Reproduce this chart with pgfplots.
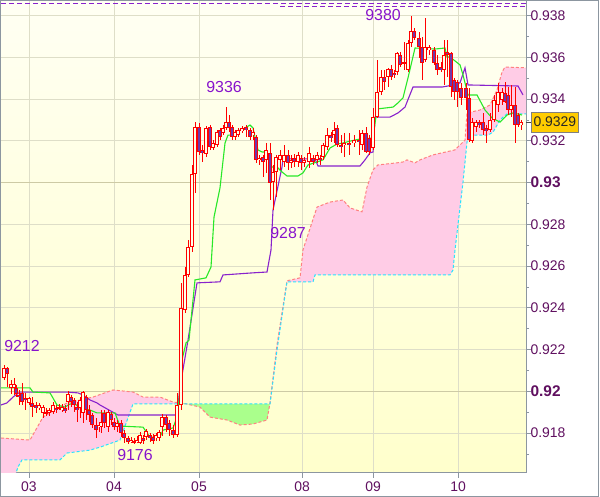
\documentclass[border=0pt]{standalone}
\usepackage{fontspec}
\setmainfont{Liberation Sans}
\usepackage{pgfplots}
\usepackage{pgfplotstable}
\pgfplotsset{compat=1.18}

\definecolor{bgtop}{RGB}{255,255,243}
\definecolor{bgbot}{RGB}{255,255,204}
\definecolor{gridc}{RGB}{222,222,200}
\definecolor{gridd}{RGB}{205,202,165}
\definecolor{axisgray}{RGB}{140,150,160}
\definecolor{tickc}{RGB}{96,16,96}
\definecolor{annoc}{RGB}{136,20,204}
\definecolor{kijun}{RGB}{136,34,204}
\definecolor{tenkan}{RGB}{40,232,40}
\definecolor{cloudpink}{RGB}{255,204,230}
\definecolor{cloudgreen}{RGB}{170,255,140}
\definecolor{salmon}{RGB}{255,128,128}
\definecolor{cyanline}{RGB}{40,228,255}
\definecolor{bullfill}{RGB}{255,255,232}
\definecolor{bearfill}{RGB}{112,56,170}
\definecolor{gold}{RGB}{255,204,0}

\pgfplotstableread{
x o h l c
4 0.92065 0.92127 0.92055 0.92113
7 0.92113 0.92117 0.92021 0.92084
11 0.92017 0.92055 0.91988 0.92036
14 0.92017 0.92065 0.91983 0.92036
16 0.92017 0.92031 0.91973 0.91988
19 0.91983 0.92007 0.91935 0.91973
22 0.91993 0.92041 0.91935 0.91949
25 0.91969 0.91993 0.91911 0.91959
29 0.91945 0.91973 0.91935 0.91969
32 0.91945 0.91973 0.91877 0.91925
36 0.91935 0.91949 0.91897 0.91921
39 0.91921 0.91945 0.91911 0.91935
43 0.91897 0.91935 0.91873 0.91925
46 0.91901 0.91921 0.91882 0.91892
49 0.91897 0.91921 0.91882 0.91911
53 0.91901 0.91949 0.91892 0.91935
56 0.91921 0.91935 0.91897 0.91911
59 0.91921 0.91940 0.91911 0.91925
62 0.91911 0.91940 0.91901 0.91925
65 0.91921 0.91935 0.91897 0.91906
68 0.91949 0.92002 0.91911 0.91988
71 0.91973 0.91983 0.91925 0.91949
74 0.91959 0.91969 0.91901 0.91935
77 0.91925 0.91949 0.91853 0.91911
80 0.91921 0.91973 0.91873 0.91959
83 0.91897 0.92002 0.91849 0.91997
86 0.91973 0.91983 0.91863 0.91911
89 0.91911 0.91935 0.91853 0.91887
92 0.91887 0.91897 0.91825 0.91839
96 0.91839 0.91873 0.91777 0.91815
99 0.91829 0.91853 0.91805 0.91839
101 0.91829 0.91911 0.91801 0.91853
104 0.91897 0.91911 0.91825 0.91849
108 0.91829 0.91911 0.91805 0.91901
111 0.91892 0.91901 0.91839 0.91863
114 0.91853 0.91873 0.91815 0.91829
117 0.91829 0.91863 0.91805 0.91849
121 0.91849 0.91863 0.91781 0.91801
124 0.91801 0.91815 0.91753 0.91777
128 0.91777 0.91786 0.91748 0.91757
131 0.91757 0.91781 0.91753 0.91767
134 0.91762 0.91777 0.91748 0.91753
137 0.91757 0.91786 0.91753 0.91767
140 0.91753 0.91805 0.91748 0.91791
143 0.91777 0.91791 0.91748 0.91762
146 0.91781 0.91820 0.91767 0.91810
150 0.91791 0.91801 0.91757 0.91777
153 0.91781 0.91796 0.91748 0.91762
156 0.91777 0.91801 0.91762 0.91791
159 0.91777 0.91815 0.91762 0.91805
162 0.91829 0.91892 0.91786 0.91877
166 0.91877 0.91887 0.91805 0.91839
169 0.91849 0.91863 0.91786 0.91815
173 0.91815 0.91839 0.91777 0.91791
177 0.91791 0.91993 0.91781 0.91935
181 0.91935 0.92520 0.91911 0.92400
185 0.92390 0.92596 0.92376 0.92558
188 0.92558 0.92725 0.92548 0.92691
192 0.92691 0.93085 0.92668 0.93042
195 0.93042 0.93290 0.92951 0.93266
199 0.93266 0.93286 0.93133 0.93147
202 0.93157 0.93180 0.93099 0.93143
206 0.93138 0.93270 0.93123 0.93266
210 0.93266 0.93276 0.93157 0.93170
213 0.93166 0.93204 0.93157 0.93190
217 0.93180 0.93252 0.93170 0.93242
220 0.93252 0.93262 0.93204 0.93218
223 0.93238 0.93276 0.93228 0.93262
226 0.93262 0.93362 0.93252 0.93290
229 0.93290 0.93324 0.93242 0.93262
232 0.93266 0.93276 0.93204 0.93218
235 0.93218 0.93252 0.93204 0.93242
238 0.93228 0.93262 0.93218 0.93252
242 0.93247 0.93271 0.93238 0.93262
246 0.93266 0.93276 0.93218 0.93252
250 0.93252 0.93262 0.93204 0.93218
253 0.93228 0.93262 0.93204 0.93242
256 0.93218 0.93228 0.93095 0.93109
259 0.93109 0.93133 0.93085 0.93119
263 0.93123 0.93133 0.93027 0.93099
266 0.93109 0.93190 0.93047 0.93157
270 0.93143 0.93190 0.92917 0.92999
273 0.93003 0.93085 0.92869 0.93051
276 0.93051 0.93133 0.92931 0.93123
280 0.93109 0.93157 0.93061 0.93133
284 0.93099 0.93180 0.93075 0.93133
288 0.93133 0.93157 0.93061 0.93095
291 0.93095 0.93133 0.93071 0.93109
294 0.93119 0.93138 0.93075 0.93099
298 0.93099 0.93147 0.93075 0.93133
301 0.93119 0.93133 0.93061 0.93095
304 0.93095 0.93123 0.93075 0.93109
309 0.93099 0.93170 0.93071 0.93143
313 0.93119 0.93133 0.93085 0.93099
317 0.93109 0.93147 0.93095 0.93133
320 0.93119 0.93133 0.93085 0.93109
323 0.93123 0.93190 0.93109 0.93180
327 0.93170 0.93262 0.93157 0.93228
331 0.93228 0.93242 0.93194 0.93214
334 0.93228 0.93290 0.93190 0.93252
337 0.93262 0.93276 0.93170 0.93180
341 0.93180 0.93228 0.93143 0.93170
344 0.93180 0.93238 0.93123 0.93190
349 0.93190 0.93238 0.93133 0.93180
354 0.93190 0.93228 0.93170 0.93204
359 0.93204 0.93252 0.93133 0.93194
362 0.93180 0.93252 0.93157 0.93238
366 0.93238 0.93266 0.93143 0.93147
369 0.93214 0.93228 0.93133 0.93147
373 0.93166 0.93358 0.93157 0.93314
377 0.93314 0.93588 0.93310 0.93434
381 0.93434 0.93540 0.93420 0.93506
384 0.93506 0.93540 0.93444 0.93482
388 0.93506 0.93550 0.93458 0.93545
391 0.93545 0.93564 0.93492 0.93506
394 0.93526 0.93540 0.93502 0.93516
397 0.93530 0.93626 0.93516 0.93622
400 0.93612 0.93626 0.93554 0.93564
404 0.93569 0.93673 0.93540 0.93578
408 0.93540 0.93683 0.93530 0.93669
411 0.93669 0.93800 0.93649 0.93726
414 0.93726 0.93741 0.93683 0.93693
419 0.93693 0.93721 0.93598 0.93649
422 0.93649 0.93697 0.93492 0.93574
425 0.93588 0.93789 0.93578 0.93649
429 0.93636 0.93659 0.93612 0.93649
434 0.93636 0.93649 0.93564 0.93574
437 0.93574 0.93612 0.93516 0.93540
441 0.93554 0.93578 0.93530 0.93540
444 0.93540 0.93683 0.93468 0.93612
447 0.93626 0.93683 0.93506 0.93612
451 0.93622 0.93626 0.93410 0.93458
454 0.93492 0.93502 0.93396 0.93434
457 0.93482 0.93492 0.93362 0.93434
461 0.93454 0.93478 0.93372 0.93406
466 0.93454 0.93478 0.93348 0.93406
469 0.93406 0.93454 0.93194 0.93204
472 0.93199 0.93310 0.93190 0.93290
476 0.93266 0.93300 0.93242 0.93290
479 0.93290 0.93300 0.93262 0.93276
483 0.93290 0.93334 0.93228 0.93252
486 0.93262 0.93276 0.93190 0.93247
490 0.93252 0.93334 0.93242 0.93300
494 0.93300 0.93420 0.93290 0.93396
498 0.93372 0.93478 0.93338 0.93434
502 0.93396 0.93454 0.93372 0.93434
505 0.93430 0.93482 0.93382 0.93386
508 0.93420 0.93458 0.93324 0.93348
511 0.93348 0.93468 0.93314 0.93372
515 0.93372 0.93458 0.93190 0.93276
518 0.93324 0.93334 0.93266 0.93276
521 0.93276 0.93300 0.93252 0.93290
}\candles

\begin{document}
\begin{tikzpicture}[x=1bp,y=1bp]
\path[use as bounding box, fill=white] (0,0) rectangle (600,497);
\begin{axis}[
  at={(1bp,24bp)}, anchor=south west,
  width=525bp, height=473bp, scale only axis,
  xmin=1, xmax=526, ymin=0.916093, ymax=0.93875,
  axis x line*=bottom, axis y line*=right,
  axis line style={draw=axisgray, line width=1bp},
  axis background/.style={top color=bgtop, bottom color=bgbot},
  xtick={29,114,199,302,373,458},
  xticklabels={03,04,05,08,09,10},
  ytick={0.918,0.922,0.924,0.926,0.928,0.932,0.934,0.936,0.938},
  yticklabels={0.918,0.922,0.924,0.926,0.928,0.932,0.934,0.936,0.938},
  minor ytick={0.917,0.919,0.921,0.923,0.925,0.927,0.929,0.931,0.933,0.935,0.937},
  extra y ticks={0.92,0.93},
  extra y tick labels={0.92,0.93},
  extra y tick style={ymajorgrids=true, major grid style={draw=gridd, line width=1bp},
    yticklabel style={font=\fontsize{15.5}{16}\selectfont\bfseries}},
  xmajorgrids, ymajorgrids,
  major grid style={draw=gridc, line width=1bp},
  tick align=outside,
  major tick length=5bp, minor tick length=3bp,
  tick style={draw=axisgray, line width=1bp},
  ticklabel style={text=tickc},
  yticklabel style={font=\fontsize{14}{14}\selectfont, anchor=west, xshift=-4bp},
  xticklabel style={font=\fontsize{14}{14}\selectfont, anchor=north},
]
% cloud fills
\addplot[fill=cloudpink, draw=none] coordinates {
(1,0.91777)(30,0.91767)(43,0.91877)(67,0.91945)(93,0.91973)(113,0.92007)(133,0.91997)(143,0.91973)(160,0.91973)(173,0.91949)(181,0.91945)
(181,0.91940)(147,0.91940)(133,0.91940)(120,0.91767)(100,0.91733)(90,0.91719)(67,0.91705)(60,0.91672)(22,0.91672)(18,0.91638)(12,0.91552)(1,0.91500)};
\addplot[fill=cloudgreen, draw=none] coordinates {
(181,0.91940)(270,0.91940)(270,0.91945)(267,0.91863)(253,0.91844)(240,0.91839)(227,0.91863)(210,0.91877)(200,0.91925)(182,0.91945)(181,0.91945)};
\addplot[fill=cloudpink, draw=none] coordinates {
(270,0.91945)(277,0.92222)(287,0.92530)(300,0.92544)(303,0.92678)(317,0.92883)(330,0.92907)(343,0.92917)(350,0.92879)(362,0.92860)(367,0.92979)(373,0.93061)(378,0.93085)(397,0.93095)(403,0.93099)(407,0.93109)(415,0.93095)(420,0.93109)(433,0.93133)(455,0.93157)(465,0.93204)(467,0.93334)(480,0.93348)(490,0.93372)(497,0.93444)(502,0.93530)(505,0.93554)(526,0.93550)
(526,0.93329)(507,0.93329)(503,0.93314)(500,0.93300)(493,0.93242)(488,0.93228)(468,0.93228)(467,0.93194)(463,0.93003)(455,0.92678)(453,0.92582)(450,0.92558)(315,0.92558)(313,0.92525)(287,0.92525)(277,0.92198)(270,0.91940)};
% cloud boundaries
\addplot[salmon, line width=1bp, dash pattern=on 3bp off 2bp] coordinates {
(1,0.91777)(30,0.91767)(43,0.91877)(67,0.91945)(93,0.91973)(113,0.92007)(133,0.91997)(143,0.91973)(160,0.91973)(173,0.91949)(182,0.91945)(200,0.91925)(210,0.91877)(227,0.91863)(240,0.91839)(253,0.91844)(267,0.91863)(270,0.91945)(277,0.92222)(287,0.92530)(300,0.92544)(303,0.92678)(317,0.92883)(330,0.92907)(343,0.92917)(350,0.92879)(362,0.92860)(367,0.92979)(373,0.93061)(378,0.93085)(397,0.93095)(403,0.93099)(407,0.93109)(415,0.93095)(420,0.93109)(433,0.93133)(455,0.93157)(465,0.93204)(467,0.93334)(480,0.93348)(490,0.93372)(497,0.93444)(502,0.93530)(505,0.93554)(526,0.93550)};
\addplot[cyanline, line width=1bp, dash pattern=on 3bp off 2bp] coordinates {
(1,0.91500)(12,0.91552)(18,0.91638)(22,0.91672)(60,0.91672)(67,0.91705)(90,0.91719)(100,0.91733)(120,0.91767)(133,0.91940)(147,0.91940)(270,0.91940)(277,0.92198)(287,0.92525)(313,0.92525)(315,0.92558)(450,0.92558)(453,0.92582)(455,0.92678)(463,0.93003)(467,0.93194)(468,0.93228)(488,0.93228)(493,0.93242)(500,0.93300)(503,0.93314)(507,0.93329)(526,0.93329)};
% kijun
\addplot[kijun, line width=1.1bp] coordinates {
(1,0.91935)(7,0.91945)(13,0.91973)(20,0.91997)(67,0.91997)(78,0.91993)(83,0.91983)(90,0.91959)(97,0.91945)(100,0.91935)(118,0.91887)(177,0.91887)(180,0.92021)(188,0.92246)(197,0.92520)(220,0.92525)(223,0.92558)(253,0.92568)(267,0.92572)(271,0.92678)(273,0.92869)(282,0.93075)(283,0.93114)(315,0.93114)(318,0.93080)(360,0.93080)(365,0.93109)(370,0.93143)(373,0.93147)(375,0.93314)(390,0.93314)(398,0.93334)(405,0.93362)(413,0.93458)(442,0.93458)(448,0.93463)(460,0.93478)(465,0.93550)(468,0.93468)(518,0.93463)(523,0.93420)};
% tenkan
\addplot[tenkan, line width=1.1bp] coordinates {
(1,0.92017)(30,0.92017)(33,0.91997)(50,0.91993)(57,0.91935)(65,0.91925)(70,0.91940)(75,0.91940)(80,0.91921)(90,0.91911)(97,0.91897)(115,0.91897)(120,0.91834)(143,0.91829)(150,0.91781)(160,0.91781)(163,0.91815)(173,0.91825)(177,0.91877)(179,0.91959)(182,0.92151)(186,0.92232)(189,0.92246)(195,0.92534)(206,0.92544)(211,0.92596)(214,0.92835)(220,0.92975)(225,0.93190)(228,0.93228)(232,0.93228)(235,0.93242)(238,0.93247)(245,0.93262)(250,0.93276)(253,0.93262)(255,0.93218)(258,0.93157)(262,0.93147)(266,0.93147)(268,0.93123)(270,0.93075)(277,0.93075)(282,0.93051)(287,0.93032)(298,0.93032)(303,0.93047)(308,0.93085)(317,0.93099)(323,0.93109)(330,0.93166)(337,0.93185)(343,0.93190)(350,0.93199)(360,0.93209)(373,0.93214)(377,0.93353)(393,0.93362)(398,0.93382)(403,0.93406)(408,0.93502)(415,0.93645)(435,0.93640)(445,0.93645)(447,0.93602)(450,0.93602)(460,0.93564)(463,0.93516)(468,0.93420)(477,0.93420)(485,0.93348)(492,0.93310)(500,0.93290)(507,0.93324)(513,0.93334)(522,0.93324)};
% top dashed lines
\addplot[kijun, line width=1bp, dash pattern=on 5bp off 3bp] coordinates {(1,0.93859)(526,0.93859)};
\addplot[kijun, line width=1bp, dash pattern=on 5bp off 3bp] coordinates {(280,0.93845)(526,0.93845)};
% candles: wicks
\addplot[draw=none, mark=none, error bars/.cd, y dir=both, y explicit, error mark=none,
  error bar style={red, line width=1bp}]
  table[x=x, y expr={(\thisrow{h}+\thisrow{l})/2}, y error expr={(\thisrow{h}-\thisrow{l})/2}] {\candles};
% bodies
\addplot[draw=none, mark=none, error bars/.cd, y dir=both, y explicit, error mark=none,
  error bar style={red, line width=3.6bp}]
  table[x=x, y expr={(\thisrow{o}+\thisrow{c})/2}, y error expr={max(abs(\thisrow{c}-\thisrow{o})/2,0.00002)}] {\candles};
\addplot[draw=none, mark=none, error bars/.cd, y dir=both, y explicit, error mark=none,
  error bar style={bullfill, line width=1.6bp}]
  table[x=x, y expr={(\thisrow{o}+\thisrow{c})/2}, y error expr={max((\thisrow{c}-\thisrow{o}-0.0000958)/2,0)}] {\candles};
\addplot[draw=none, mark=none, error bars/.cd, y dir=both, y explicit, error mark=none,
  error bar style={bearfill, line width=1.6bp}]
  table[x=x, y expr={(\thisrow{o}+\thisrow{c})/2}, y error expr={max((\thisrow{o}-\thisrow{c}-0.0000958)/2,0)}] {\candles};
% annotations
\node[text=annoc, font=\fontsize{16}{16}\selectfont] at (axis cs:224,0.93458) {9336};
\node[text=annoc, font=\fontsize{16}{16}\selectfont] at (axis cs:383,0.93803) {9380};
\node[text=annoc, font=\fontsize{16}{16}\selectfont] at (axis cs:288,0.92759) {9287};
\node[text=annoc, font=\fontsize{16}{16}\selectfont] at (axis cs:22,0.92218) {9212};
\node[text=annoc, font=\fontsize{16}{16}\selectfont] at (axis cs:135,0.91696) {9176};
\coordinate (pbox) at (axis cs:526,0.9329);
\end{axis}
\draw[black!70, line width=1bp] (pbox) -- ++(5,0);
\node[fill=gold, draw=gray, line width=1bp, anchor=west, inner xsep=2bp, minimum height=20bp,
  font=\fontsize{14}{14}\selectfont, text=black!85] at ([xshift=5bp]pbox) {0.9329};
\draw[axisgray, line width=1bp] (0.5,0.5) rectangle (598.5,496.5);
\end{tikzpicture}
\end{document}
